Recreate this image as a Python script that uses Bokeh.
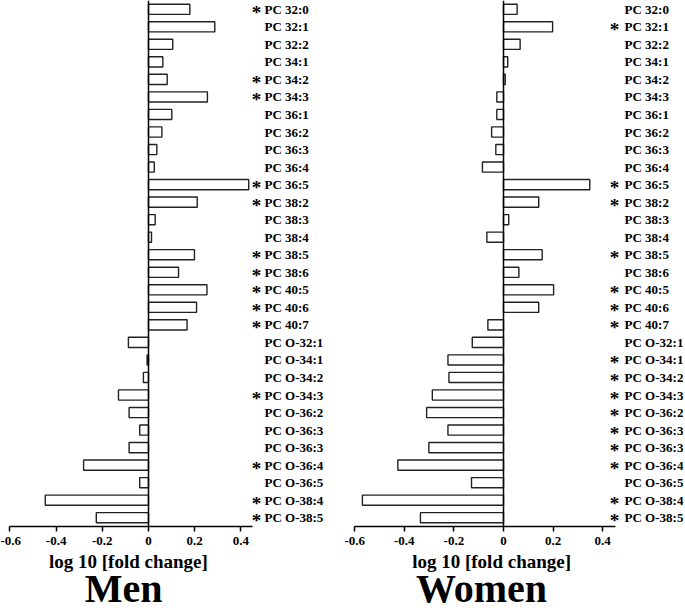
from bokeh.plotting import figure
from bokeh.layouts import row, column
from bokeh.models import Range1d, Span, FixedTicker, ColumnDataSource
from bokeh.core.properties import value
from bokeh.embed import file_html
from bokeh.resources import INLINE

categories = ["PC 32:0", "PC 32:1", "PC 32:2", "PC 34:1", "PC 34:2", "PC 34:3",
              "PC 36:1", "PC 36:2", "PC 36:3", "PC 36:4", "PC 36:5", "PC 38:2",
              "PC 38:3", "PC 38:4", "PC 38:5", "PC 38:6", "PC 40:5", "PC 40:6",
              "PC 40:7", "PC O-32:1", "PC O-34:1", "PC O-34:2", "PC O-34:3",
              "PC O-36:2", "PC O-36:3", "PC O-36:3", "PC O-36:4", "PC O-36:5",
              "PC O-38:4", "PC O-38:5"]

men_values = [0.179, 0.287, 0.105, 0.062, 0.081, 0.255, 0.101, 0.058, 0.036, 0.025,
              0.434, 0.211, 0.029, 0.013, 0.199, 0.130, 0.253, 0.208, 0.167,
              -0.087, -0.006, -0.022, -0.130, -0.084, -0.038, -0.084, -0.281,
              -0.038, -0.447, -0.226]
women_values = [0.055, 0.198, 0.067, 0.017, 0.007, -0.027, -0.027, -0.048, -0.031,
                -0.085, 0.348, 0.142, 0.021, -0.067, 0.156, 0.062, 0.202, 0.142,
                -0.063, -0.126, -0.224, -0.220, -0.287, -0.310, -0.224, -0.301,
                -0.426, -0.129, -0.569, -0.335]

men_significant = [1, 0, 0, 0, 1, 1, 0, 0, 0, 0, 1, 1, 0, 0, 1, 1, 1, 1, 1,
                   0, 0, 0, 1, 0, 0, 0, 1, 0, 1, 1]
women_significant = [0, 1, 0, 0, 0, 0, 0, 0, 0, 0, 1, 1, 0, 0, 1, 0, 1, 1, 1,
                     0, 1, 1, 1, 1, 1, 1, 1, 0, 1, 1]

tick_values = [-0.6, -0.4, -0.2, 0, 0.2, 0.4]
tick_labels = ["-0.6", "-0.4", "-0.2", "0", "0.2", "0.4"]
axis_title = "log 10 [fold change]"
panel_titles = ["Men", "Women"]

FONT = "Liberation Serif"
BAR_H = 552      # frame 526 + axis area
AXIS_AREA = 26
TITLE_H = 58


def make_panel(values, sig, title, width, x_start, x_end, label_x, star_x,
               title_x, axis_title_x):
    n = len(categories)
    xr = Range1d(x_start, x_end)
    p = figure(width=width, height=BAR_H, x_range=xr,
               y_range=Range1d(n - 0.5, -0.5),
               output_backend="svg", toolbar_location=None,
               y_axis_location=None,
               min_border_left=0, min_border_right=0,
               min_border_top=0, min_border_bottom=AXIS_AREA,
               outline_line_color=None)
    p.xgrid.visible = False
    p.ygrid.visible = False
    src = ColumnDataSource(dict(
        y=list(range(n)), v=values, cat=categories,
        star=["*" if s else "" for s in sig]))
    p.hbar(y="y", left=0, right="v", height=0.58, fill_color="white",
           line_color="#222222", line_width=1.4, source=src)
    p.add_layout(Span(location=0, dimension="height", line_color="black",
                      line_width=1.5))
    p.text(x=label_x, y="y", text="cat", source=src, text_font=value(FONT),
           text_font_style="bold", text_font_size="13px",
           text_baseline="middle", text_align="left", text_color="black")
    p.text(x=star_x, y="y", text="star", source=src, text_font=value(FONT),
           text_font_style="bold", text_font_size="19px",
           text_baseline="middle", text_align="center", text_color="black",
           y_offset=3)
    ax = p.xaxis[0]
    ax.ticker = FixedTicker(ticks=tick_values, minor_ticks=[])
    ov = {}
    for tv, tl in zip(tick_values, tick_labels):
        ov[tv] = tl
    ax.major_label_overrides = ov
    ax.bounds = (-0.6, 0.45)
    ax.axis_line_width = 1.5
    ax.axis_line_color = "black"
    ax.major_tick_line_width = 1.5
    ax.major_tick_out = 5
    ax.major_tick_in = 0
    ax.minor_tick_line_color = None
    ax.major_label_text_font = FONT
    ax.major_label_text_font_style = "bold"
    ax.major_label_text_font_size = "13px"
    ax.major_label_text_color = "black"
    ax.major_label_standoff = 5

    t = figure(width=width, height=TITLE_H, x_range=xr,
               y_range=Range1d(TITLE_H, 0),
               output_backend="svg", toolbar_location=None,
               x_axis_location=None, y_axis_location=None,
               min_border_left=0, min_border_right=0,
               min_border_top=0, min_border_bottom=0,
               outline_line_color=None)
    t.xgrid.visible = False
    t.ygrid.visible = False
    t.text(x=[axis_title_x], y=[9], text=[axis_title], text_font=value(FONT),
           text_font_style="bold", text_font_size="19px",
           text_baseline="alphabetic", text_align="center", text_color="black")
    t.text(x=[title_x], y=[36], text=[title], text_font=value(FONT),
           text_font_style="bold", text_font_size="40px",
           text_baseline="alphabetic", text_align="center", text_color="black")
    return column(p, t, spacing=0)


left = make_panel(men_values, men_significant, panel_titles[0], 340,
                  -0.6407, 0.8312, 0.502, 0.468, -0.108, -0.087)
right = make_panel(women_values, women_significant, panel_titles[1], 343,
                   -0.6573, 0.7258, 0.488, 0.448, -0.089, -0.048)

layout = row(left, right, spacing=0)
open("out.html", "w").write(file_html(layout, INLINE))
